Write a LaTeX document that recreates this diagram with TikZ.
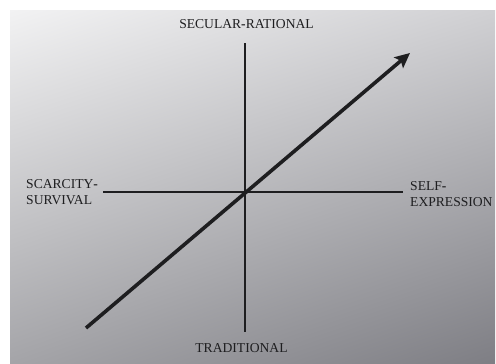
\documentclass[tikz,border=0pt]{standalone}
\usepackage{fontspec}
\setmainfont{Liberation Serif}
\usepackage{xcolor}
\usepackage{tikz}
\usetikzlibrary{arrows.meta,shadings}

\definecolor{ink}{HTML}{1E1E20}
\definecolor{paperUL}{HTML}{F2F2F3}
\definecolor{paperUR}{HTML}{D0D0D3}
\definecolor{paperLL}{HTML}{A4A4A8}
\definecolor{paperLR}{HTML}{7E7E84}

\begin{document}
\begin{tikzpicture}[x=1pt,y=-1pt,
    axislabel/.style={text=ink,inner sep=0pt,font=\fontsize{13.6}{15.5}\selectfont},
    axisline/.style={draw=ink,line width=1.2pt}]
\def\panel{(10,10) rectangle (495,364)}
\def\hy{\textbf{-}}
\useasboundingbox (0,0) rectangle (496,364);
      \shade[upper left=paperUL,upper right=paperUR,lower left=paperLL,lower right=paperLR] \panel;
% axes
      \coordinate (top) at (245,43);
      \coordinate (bottom) at (245,332);
      \coordinate (left) at (103,192);
      \coordinate (right) at (403,192);
      \draw[axisline] (top) -- (bottom);
      \draw[axisline] (left) -- (right);
% labels
      \node[axislabel,anchor=base] (secular) at (246.5,28) {SECULAR\hy RATIONAL};
      \node[axislabel,anchor=base] (traditional) at (241.5,352) {TRADITIONAL};
      \node[axislabel,anchor=north west,align=left] (scarcity) at (26,179.5) {SCARCITY\hy\\SURVIVAL};
      \node[axislabel,anchor=north west,align=left] (selfexpr) at (410,181.5) {SELF\hy\\EXPRESSION};
% trend
      \coordinate (tail) at (86,328);
      \coordinate (head) at (410,53);
      \draw[draw=ink,line width=3.6pt,-{Stealth[length=15pt,width=14pt,inset=3pt]}] (tail) -- (head);
\end{tikzpicture}
\end{document}
